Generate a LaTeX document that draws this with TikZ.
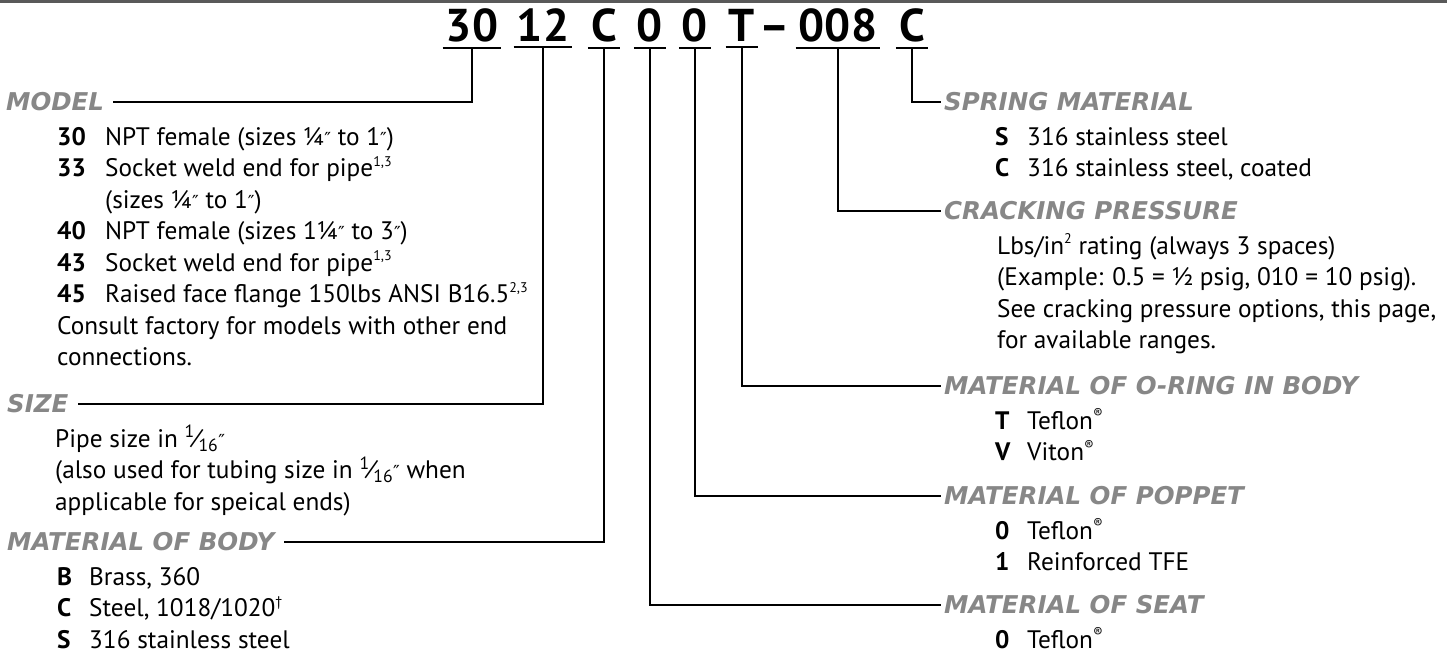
\documentclass[tikz,border=0pt]{standalone}
\usepackage{fontspec}
\setmainfont{PT Sans}
\newfontfamily\headfont{DejaVu Sans Bold Oblique}
\newfontfamily\symfont{DejaVu Sans}
\usetikzlibrary{positioning}
\definecolor{headgray}{rgb}{0.53,0.53,0.53}
\definecolor{rulegray}{rgb}{0.35,0.35,0.35}
\newcommand{\inch}{{\symfont\fontsize{18}{18}\selectfont″}}
\newcommand{\sixt}{\textsuperscript{1}\kern-0.5pt⁄\kern-0.5pt\textsubscript{16}}
\newcommand{\sups}[1]{\raisebox{0.4em}{\fontsize{14}{14}\selectfont #1}}
\newcommand{\itm}[3][48pt]{\makebox[#1][l]{\bfseries #2}#3}
\tikzstyle{code} = [anchor=base, inner xsep=3pt, inner ysep=6pt, font=\bfseries\fontsize{46}{46}\selectfont]
\tikzstyle{head} = [anchor=west, inner sep=0pt, text=headgray, font=\headfont\fontsize{24.5}{24.5}\selectfont]
\tikzstyle{list} = [inner sep=0pt, font=\fontsize{25.3}{31.5}\selectfont]
\tikzstyle{link} = [line width=1.7pt]
\tikzstyle{uline} = [line width=2pt]

\begin{document}
\begin{tikzpicture}[x=1pt, y=1pt]
\useasboundingbox (0,0) rectangle (1447,-654);
\draw[rulegray, line width=3pt] (0,-1.5) -- (1447,-1.5);

% order code
\node (c30) [code] at (472,-41) {30};
\node (c12) [code] at (543,-41) {12};
\node (cC) [code] at (604,-41) {C};
\node (c0a) [code] at (650,-41) {0};
\node (c0b) [code] at (695,-41) {0};
\node (cT) [code] at (742,-41) {T};
\node (dash) [code] at (775,-41) {--};
\node (c008) [code] at (838,-41) {008};
\node (cC2) [code] at (912,-41) {C};
\foreach \n in {c30,c12,cC,c0a,c0b,cT,c008,cC2}
  \draw[uline] (\n.south west) -- (\n.south east);

% left side
\node (model) [head] at (6,-102) {MODEL};
\node (modellist) [list, below right=43pt and 51pt of model.west, anchor=base west] {%
\begin{tabular}[t]{@{}l@{}}
\itm{30}{NPT female (sizes ¼\inch{} to 1\inch)}\\
\itm{33}{Socket weld end for pipe\sups{1,3}}\\
\hspace{48pt}(sizes ¼\inch{} to 1\inch)\\
\itm{40}{NPT female (sizes 1¼\inch{} to 3\inch)}\\
\itm{43}{Socket weld end for pipe\sups{1,3}}\\
\itm{45}{Raised face flange 150lbs ANSI B16.5\sups{2,3}}\\
Consult factory for models with other end\\
connections.
\end{tabular}};

\node (size) [head] at (7,-404) {SIZE};
\node (sizelist) [list, below right=43pt and 48pt of size.west, anchor=base west] {%
\begin{tabular}[t]{@{}l@{}}
Pipe size in \sixt\inch\\
(also used for tubing size in \sixt\inch{} when\\
applicable for speical ends)
\end{tabular}};

\node (body) [head] at (7,-542) {MATERIAL OF BODY};
\node (bodylist) [list, below right=43pt and 50pt of body.west, anchor=base west] {%
\begin{tabular}[t]{@{}l@{}}
\itm[32pt]{B}{Brass, 360}\\
\itm[32pt]{C}{Steel, 1018/1020\sups{†}}\\
\itm[32pt]{S}{316 stainless steel}
\end{tabular}};

% right side
\node (spring) [head] at (944,-102) {SPRING MATERIAL};
\node (springlist) [list, below right=43pt and 51pt of spring.west, anchor=base west] {%
\begin{tabular}[t]{@{}l@{}}
\itm[32pt]{S}{316 stainless steel}\\
\itm[32pt]{C}{316 stainless steel, coated}
\end{tabular}};

\node (cracking) [head] at (944,-211) {CRACKING PRESSURE};
\node (crackinglist) [list, below right=43pt and 53pt of cracking.west, anchor=base west] {%
\begin{tabular}[t]{@{}l@{}}
Lbs/in\sups{2} rating (always 3 spaces)\\
(Example: 0.5 = ½ psig, 010 = 10 psig).\\
See cracking pressure options, this page,\\
for available ranges.
\end{tabular}};

\node (oring) [head] at (944,-386) {MATERIAL OF O-RING IN BODY};
\node (oringlist) [list, below right=43pt and 51pt of oring.west, anchor=base west] {%
\begin{tabular}[t]{@{}l@{}}
\itm[32pt]{T}{Teflon\sups{®}}\\
\itm[32pt]{V}{Viton\sups{®}}
\end{tabular}};

\node (poppet) [head] at (944,-496) {MATERIAL OF POPPET};
\node (poppetlist) [list, below right=43pt and 51pt of poppet.west, anchor=base west] {%
\begin{tabular}[t]{@{}l@{}}
\itm[32pt]{0}{Teflon\sups{®}}\\
\itm[32pt]{1}{Reinforced TFE}
\end{tabular}};

\node (seat) [head] at (944,-605) {MATERIAL OF SEAT};
\node (seatlist) [list, below right=43pt and 51pt of seat.west, anchor=base west] {%
\begin{tabular}[t]{@{}l@{}}
\itm[32pt]{0}{Teflon\sups{®}}
\end{tabular}};

% leaders
\draw[link] (c30.south) |- ([xshift=9pt]model.east);
\draw[link] (c12.south) |- ([xshift=9pt]size.east);
\draw[link] (cC.south) |- ([xshift=9pt]body.east);
\draw[link] (c0a.south) |- ([xshift=-3pt]seat.west);
\draw[link] (c0b.south) |- ([xshift=-3pt]poppet.west);
\draw[link] (cT.south) |- ([xshift=-3pt]oring.west);
\draw[link] (c008.south) |- ([xshift=-3pt]cracking.west);
\draw[link] (cC2.south) |- ([xshift=-3pt]spring.west);
\end{tikzpicture}
\end{document}
